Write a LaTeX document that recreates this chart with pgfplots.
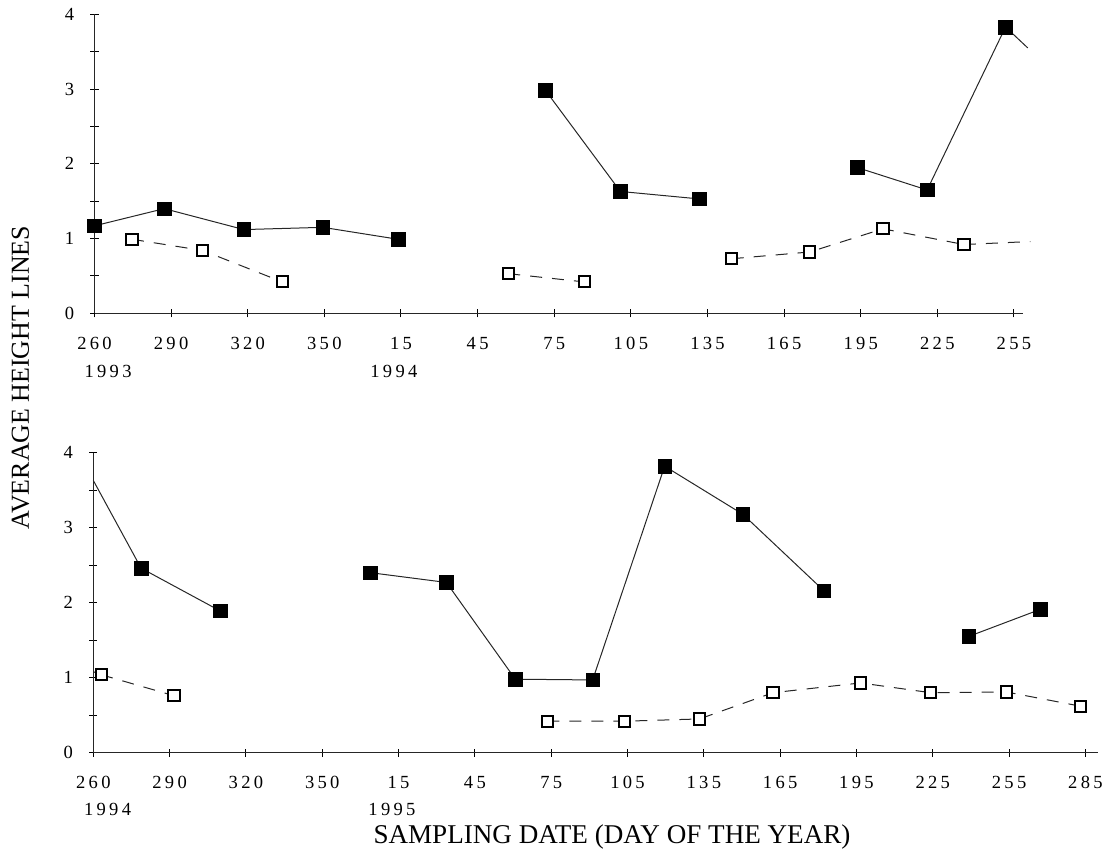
\documentclass[border=0pt]{standalone}
\usepackage{fontspec}
\setmainfont{Liberation Serif}
\newfontfamily\tickfont[LetterSpace=18]{Liberation Serif}
\usepackage{pgfplots}
\pgfplotsset{compat=1.18}
\pgfplotsset{
  panel/.style={
    scale only axis, clip=false, enlargelimits=false,
    axis x line=bottom, axis y line=left,
    axis line style={-, line width=0.6bp, black!85},
    ymin=0, ymax=4, xmin=0,
    ytick={0,1,2,3,4}, yticklabels={0,1,2,3,4},
    minor ytick={0.5,1.5,2.5,3.5},
    tick align=center,
    major tick length=4bp, minor tick length=4bp,
    every tick/.style={line width=0.5bp, black},
    every minor tick/.style={line width=0.5bp, black},
    every tick label/.append style={font=\tickfont\fontsize{9.3}{10}\selectfont, black},
    xticklabel style={anchor=center, yshift=-12.9bp},
    yticklabel style={anchor=center, xshift=-10.5bp},
  },
  filled/.style={black!85, line width=0.5bp, mark=square*, mark size=3.4bp,
    mark options={solid, fill=black, draw=black, line width=0.3bp}},
  filledline/.style={black!85, line width=0.5bp, no marks},
  open/.style={black!85, line width=0.5bp, dash pattern=on 6bp off 5bp, mark=square*, mark size=2.8bp,
    mark options={solid, fill=white, draw=black, line width=1bp}},
  openline/.style={black!85, line width=0.5bp, dash pattern=on 6bp off 5bp, no marks},
}
\tikzset{year/.style={font=\tickfont\fontsize{9.3}{10}\selectfont}}
\begin{document}
\begin{tikzpicture}
\path[use as bounding box] (0,0) rectangle (559bp,428bp);
% top panel
\begin{axis}[panel, at={(47.25bp,271.35bp)}, anchor=south west,
  width=464.2bp, height=149.5bp, xmax=363.5,
  xtick={0,30,...,360},
  xticklabels={260,290,320,350,15,45,75,105,135,165,195,225,255}]
\addplot[filled] coordinates {(0,1.17) (27.3,1.40) (58.5,1.12) (89.4,1.15) (118.9,0.99)};
\addplot[filled] coordinates {(176.6,2.98) (205.9,1.63) (236.8,1.53)};
\addplot[filledline] coordinates {(356.7,3.83) (365.4,3.55)};
\addplot[filled] coordinates {(298.6,1.95) (326,1.65) (356.7,3.83)};
\addplot[open] coordinates {(14.7,0.99) (42.4,0.84) (73.5,0.42)};
\addplot[open] coordinates {(162,0.53) (191.7,0.42)};
\addplot[openline] coordinates {(340.4,0.92) (366.4,0.96)};
\addplot[open] coordinates {(249.5,0.73) (280,0.82) (308.7,1.13) (340.4,0.92)};
\node[year] at (axis cs:5.3,0) [yshift=-29bp] {1993};
\node[year] at (axis cs:117.2,0) [yshift=-29bp] {1994};
\end{axis}
% bottom panel
\begin{axis}[panel, at={(46.65bp,51.65bp)}, anchor=south west,
  width=502.4bp, height=150bp, xmax=395,
  xtick={0,30,...,390},
  xticklabels={260,290,320,350,15,45,75,105,135,165,195,225,255,285}]
\addplot[filledline] coordinates {(0,3.63) (18.8,2.46)};
\addplot[filled] coordinates {(18.8,2.46) (49.9,1.89)};
\addplot[filled] coordinates {(109,2.40) (138.8,2.27) (165.9,0.98) (196.3,0.97) (224.6,3.82) (255.3,3.18) (287.2,2.16)};
\addplot[filled] coordinates {(344.1,1.55) (372.2,1.91)};
\addplot[openline] coordinates {(0,1.08) (3.1,1.04)};
\addplot[open] coordinates {(3.1,1.04) (31.7,0.76)};
\addplot[open] coordinates {(178.5,0.42) (208.9,0.42) (238.3,0.45) (267.2,0.80) (301.6,0.93) (329.2,0.80) (358.9,0.81) (388.1,0.62)};
\node[year] at (axis cs:5.6,0) [yshift=-28.5bp] {1994};
\node[year] at (axis cs:117.4,0) [yshift=-28.5bp] {1995};
\end{axis}
\node[rotate=90, font=\fontsize{13}{14}\selectfont] at (10.3bp,239.2bp) {AVERAGE HEIGHT LINES};
\node[font=\fontsize{13.6}{15}\selectfont] at (306bp,9.5bp) {SAMPLING DATE (DAY OF THE YEAR)};
\end{tikzpicture}
\end{document}
